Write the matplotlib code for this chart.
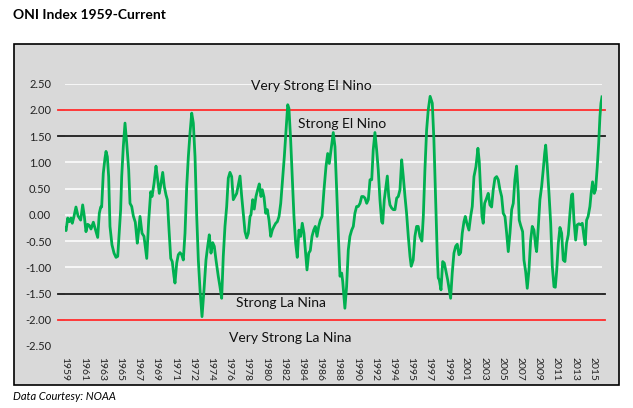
import matplotlib

matplotlib.use("Agg")

import matplotlib.pyplot as plt
from matplotlib.patches import Rectangle

plt.rcParams["font.family"] = ["Lato", "DejaVu Sans"]

# ONI values (time in decimal years, as placed on the axis)
years = [
    1959.00, 1959.11, 1959.29, 1959.46, 1959.63, 1959.77, 1959.95, 1960.16, 1960.38, 1960.66,
    1960.87, 1961.04, 1961.22, 1961.40, 1961.57, 1961.75, 1962.00, 1962.25, 1962.46, 1962.63,
    1962.78, 1962.88, 1963.05, 1963.23, 1963.34, 1963.48, 1963.62, 1963.76, 1963.97, 1964.19,
    1964.40, 1964.58, 1964.75, 1964.89, 1965.00, 1965.17, 1965.35, 1965.53, 1965.74, 1965.88,
    1966.06, 1966.23, 1966.44, 1966.65, 1966.80, 1966.94, 1967.15, 1967.36, 1967.65, 1967.86,
    1968.07, 1968.21, 1968.42, 1968.63, 1968.77, 1968.98, 1969.16, 1969.34, 1969.51, 1969.69,
    1969.83, 1970.01, 1970.19, 1970.35, 1970.53, 1970.64, 1970.82, 1970.99, 1971.17, 1971.35,
    1971.52, 1971.70, 1971.88, 1972.05, 1972.23, 1972.41, 1972.58, 1972.76, 1972.94, 1973.11,
    1973.29, 1973.50, 1973.71, 1973.92, 1974.10, 1974.27, 1974.45, 1974.63, 1974.80, 1974.98,
    1975.22, 1975.40, 1975.58, 1975.75, 1975.93, 1976.11, 1976.28, 1976.46, 1976.64, 1976.81,
    1976.99, 1977.17, 1977.34, 1977.52, 1977.70, 1977.87, 1978.05, 1978.23, 1978.40, 1978.58,
    1978.68, 1978.86, 1979.03, 1979.21, 1979.39, 1979.56, 1979.74, 1979.88, 1980.06, 1980.24,
    1980.41, 1980.59, 1980.77, 1980.94, 1981.12, 1981.30, 1981.47, 1981.65, 1981.83, 1982.04,
    1982.21, 1982.39, 1982.57, 1982.70, 1982.88, 1983.05, 1983.23, 1983.41, 1983.58, 1983.76,
    1983.94, 1984.11, 1984.29, 1984.47, 1984.61, 1984.79, 1984.96, 1985.14, 1985.32, 1985.49,
    1985.67, 1985.85, 1986.02, 1986.20, 1986.41, 1986.62, 1986.80, 1986.97, 1987.15, 1987.39,
    1987.57, 1987.75, 1987.92, 1988.10, 1988.28, 1988.39, 1988.52, 1988.62, 1988.80, 1988.98,
    1989.15, 1989.34, 1989.51, 1989.68, 1989.86, 1990.03, 1990.22, 1990.40, 1990.57, 1990.75,
    1990.93, 1991.10, 1991.28, 1991.46, 1991.62, 1991.80, 1991.98, 1992.15, 1992.33, 1992.51,
    1992.62, 1992.79, 1992.97, 1993.11, 1993.26, 1993.39, 1993.57, 1993.74, 1993.92, 1994.10,
    1994.27, 1994.45, 1994.63, 1994.80, 1994.98, 1995.15, 1995.33, 1995.51, 1995.64, 1995.85,
    1996.03, 1996.21, 1996.38, 1996.56, 1996.77, 1996.92, 1997.09, 1997.27, 1997.44, 1997.64,
    1997.87, 1998.04, 1998.22, 1998.40, 1998.50, 1998.61, 1998.79, 1998.97, 1999.14, 1999.32,
    1999.50, 1999.67, 1999.81, 1999.98, 2000.16, 2000.34, 2000.51, 2000.69, 2000.87, 2001.04,
    2001.22, 2001.36, 2001.53, 2001.75, 2001.93, 2002.10, 2002.28, 2002.49, 2002.70, 2002.84,
    2002.98, 2003.13, 2003.26, 2003.41, 2003.62, 2003.79, 2003.97, 2004.15, 2004.32, 2004.50,
    2004.68, 2004.85, 2005.03, 2005.21, 2005.38, 2005.56, 2005.74, 2005.91, 2006.09, 2006.27,
    2006.44, 2006.61, 2006.79, 2006.97, 2007.07, 2007.22, 2007.43, 2007.57, 2007.75, 2007.92,
    2008.10, 2008.28, 2008.45, 2008.63, 2008.81, 2008.91, 2009.09, 2009.26, 2009.44, 2009.61,
    2009.76, 2009.87, 2010.04, 2010.22, 2010.40, 2010.57, 2010.75, 2010.89, 2011.04, 2011.21,
    2011.38, 2011.56, 2011.73, 2011.91, 2012.08, 2012.26, 2012.44, 2012.61, 2012.72, 2012.86,
    2013.04, 2013.21, 2013.39, 2013.57, 2013.74, 2013.92, 2014.05, 2014.20, 2014.36, 2014.55,
    2014.68, 2014.83, 2015.01, 2015.15, 2015.33, 2015.48, 2015.61, 2015.72, 2015.83,
]
oni = [
    -0.25, -0.30, -0.06, -0.13, -0.06, -0.16, -0.03, 0.15, -0.02, -0.10,
    0.19, -0.02, -0.32, -0.18, -0.20, -0.27, -0.14, -0.30, -0.43, 0.03,
    0.15, 0.15, 0.79, 1.08, 1.21, 1.11, 0.73, -0.22, -0.57, -0.73,
    -0.81, -0.79, -0.29, 0.10, 0.73, 1.30, 1.75, 1.37, 0.86, 0.22,
    0.16, -0.02, -0.14, -0.54, -0.29, -0.03, -0.35, -0.41, -0.83, -0.10,
    0.44, 0.35, 0.60, 0.93, 0.73, 0.41, 0.60, 0.81, 0.54, 0.38,
    0.29, -0.29, -0.83, -0.89, -1.17, -1.30, -0.92, -0.76, -0.72, -0.76,
    -0.86, -0.35, 0.54, 1.10, 1.56, 1.94, 1.75, 1.11, -0.03, -0.86,
    -1.43, -1.94, -1.43, -0.86, -0.60, -0.38, -0.73, -0.53, -0.60, -0.86,
    -1.17, -1.37, -1.59, -0.79, -0.22, 0.16, 0.70, 0.81, 0.73, 0.29,
    0.35, 0.41, 0.57, 0.74, 0.35, 0.03, -0.32, -0.44, -0.35, -0.03,
    0.00, 0.29, 0.11, 0.35, 0.48, 0.59, 0.35, 0.48, 0.34, 0.03,
    0.10, -0.10, -0.41, -0.29, -0.22, -0.16, -0.13, -0.03, 0.22, 0.70,
    1.11, 1.62, 2.10, 2.03, 1.43, 0.73, -0.03, -0.54, -0.81, -0.29,
    -0.41, -0.16, -0.35, -0.73, -1.05, -0.73, -0.68, -0.41, -0.29, -0.22,
    -0.41, -0.22, -0.10, -0.03, 0.48, 0.92, 1.17, 0.98, 1.24, 1.57,
    1.30, 0.48, -0.35, -1.17, -1.11, -1.27, -1.56, -1.78, -1.37, -0.67,
    -0.41, -0.29, -0.22, 0.03, 0.16, 0.16, 0.22, 0.35, 0.35, 0.32,
    0.22, 0.29, 0.67, 0.67, 1.24, 1.57, 1.24, 0.86, 0.29, -0.13,
    -0.16, 0.29, 0.54, 0.74, 0.35, 0.19, 0.13, 0.10, 0.10, 0.32,
    0.35, 0.48, 1.05, 0.73, 0.35, 0.03, -0.41, -0.79, -0.98, -0.86,
    -0.41, -0.22, -0.22, -0.41, -0.50, -0.03, 0.86, 1.62, 2.00, 2.26,
    2.13, 1.43, 0.29, -0.79, -1.20, -1.24, -1.43, -0.89, -0.92, -1.08,
    -1.24, -1.43, -1.59, -1.11, -0.73, -0.60, -0.56, -0.76, -0.72, -0.35,
    -0.13, -0.03, -0.16, -0.29, -0.03, 0.16, 0.73, 0.92, 1.27, 1.02,
    0.48, -0.03, -0.16, 0.22, 0.32, 0.41, 0.19, 0.15, 0.48, 0.70,
    0.73, 0.67, 0.48, 0.35, 0.03, -0.03, -0.35, -0.70, -0.35, 0.10,
    0.22, 0.67, 0.93, 0.41, -0.10, -0.20, -0.32, -0.86, -1.08, -1.40,
    -1.05, -0.48, -0.22, -0.29, -0.60, -0.70, -0.22, 0.29, 0.54, 0.86,
    1.17, 1.33, 0.92, 0.41, -0.16, -0.98, -1.37, -1.38, -1.05, -0.54,
    -0.24, -0.35, -0.86, -0.89, -0.54, -0.38, 0.03, 0.38, 0.40, -0.10,
    -0.48, -0.19, -0.17, -0.19, -0.16, -0.41, -0.57, -0.10, -0.03, 0.16,
    0.41, 0.63, 0.41, 0.48, 0.92, 1.37, 1.87, 2.13, 2.25,
]

tick_labels = [
    "1959", "1961", "1963", "1965", "1967", "1969", "1971", "1972", "1974", "1976",
    "1978", "1980", "1982", "1984", "1986", "1988", "1990", "1992", "1994", "1995",
    "1997", "1999", "2001", "2003", "2005", "2007", "2009", "2011", "2013", "2015",
]
tick_step = 1.926  # years between category labels on the original axis

ref_levels = [2.0, 1.5, -1.5, -2.0]
ref_colors = ["#ff2a2a", "#1a1a1a", "#1a1a1a", "#ff2a2a"]
ref_labels = ["Very Strong El Nino", "Strong El Nino", "Strong La Nina", "Very Strong La Nina"]
label_pos = [(1985.1, 2.46), (1988.3, 1.73), (1981.9, -1.68), (1982.8, -2.34)]

fig = plt.figure(figsize=(6.33, 4.08), dpi=100)
W, H = 633, 408

# grey chart box with black frame
fig.patches.append(
    Rectangle((13.5 / W, 1 - 385 / H), (619 - 13.5) / W, (385 - 44) / H,
              transform=fig.transFigure, facecolor="#d9d9d9", edgecolor="black",
              linewidth=1.2, zorder=-10)
)

ax = fig.add_axes([65 / W, 1 - 346 / H, (602 - 65) / W, (346 - 83.75) / H])
ax.set_facecolor("none")
for s in ax.spines.values():
    s.set_visible(False)

ax.set_ylim(-2.5, 2.5)
ax.set_xlim(years[0], years[-1])
ax.set_yticks([-2.5, -2.0, -1.5, -1.0, -0.5, 0.0, 0.5, 1.0, 1.5, 2.0, 2.5])
ax.set_yticklabels([f"{v:.2f}" for v in ax.get_yticks()])
ax.yaxis.grid(True, color="white", linewidth=1.1)
ax.get_ygridlines()[0].set_visible(False)
ax.set_axisbelow(True)

tick_x = [years[0] + tick_step * i for i in range(len(tick_labels))]
ax.set_xticks(tick_x)
ax.set_xticklabels(tick_labels, rotation=270)
ax.tick_params(axis="x", length=0, pad=8, labelsize=7.5, colors="#222222")
ax.tick_params(axis="y", length=0, pad=10, labelsize=8, colors="#222222")

for lvl, col in zip(ref_levels, ref_colors):
    ax.plot([-0.013, 1.006], [lvl, lvl], color=col, linewidth=1.3,
            transform=ax.get_yaxis_transform(), clip_on=False, zorder=2)

ax.plot(years, oni, color="#00b050", linewidth=2.0, zorder=3)

for txt, (tx, ty) in zip(ref_labels, label_pos):
    ax.text(tx, ty, txt, ha="center", va="center", fontsize=10, color="#111111", zorder=4)

fig.text(13 / W, 1 - 15 / H, "ONI Index 1959-Current", fontsize=10, fontweight="bold",
         ha="left", va="center")
fig.text(13 / W, 1 - 396 / H, "Data Courtesy: NOAA", fontsize=8, style="italic",
         ha="left", va="center")

fig.savefig("out.png", dpi=100)
